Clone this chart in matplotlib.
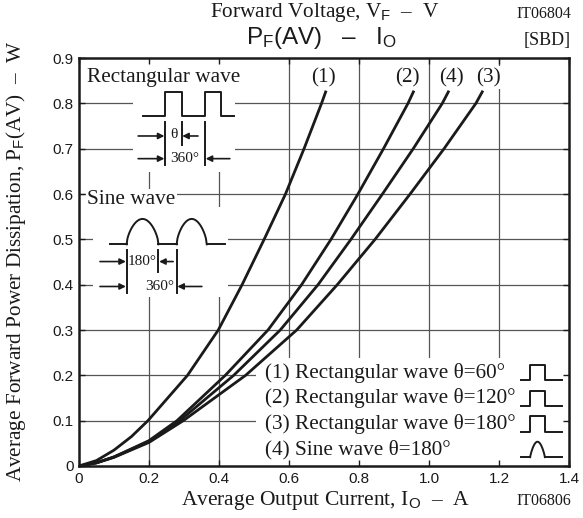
import matplotlib
matplotlib.use("Agg")
import matplotlib.pyplot as plt
import numpy as np
from matplotlib.patches import Rectangle

# values (I_O in A, P_F(AV) in W)
io_1 = [0, 0.05, 0.1, 0.15, 0.197, 0.31, 0.398, 0.466, 0.529, 0.59, 0.643, 0.693, 0.706]
pf_1 = [0, 0.012, 0.035, 0.065, 0.1, 0.2, 0.3, 0.4, 0.5, 0.6, 0.7, 0.8, 0.828]

io_2 = [0, 0.05, 0.1, 0.2, 0.28, 0.418, 0.54, 0.636, 0.72, 0.797, 0.870, 0.940, 0.957]
pf_2 = [0, 0.007, 0.02, 0.056, 0.1, 0.2, 0.3, 0.4, 0.5, 0.6, 0.7, 0.8, 0.828]

io_3 = [0, 0.05, 0.1, 0.2, 0.298, 0.476, 0.622, 0.738, 0.846, 0.946, 1.043, 1.134, 1.154]
pf_3 = [0, 0.007, 0.019, 0.052, 0.1, 0.2, 0.3, 0.4, 0.5, 0.6, 0.7, 0.8, 0.828]

io_4 = [0, 0.05, 0.1, 0.2, 0.288, 0.442, 0.575, 0.683, 0.777, 0.867, 0.955, 1.038, 1.057]
pf_4 = [0, 0.007, 0.02, 0.054, 0.1, 0.2, 0.3, 0.4, 0.5, 0.6, 0.7, 0.8, 0.828]

curve_names = ["(1)", "(2)", "(4)", "(3)"]
legend_labels = [
    "(1) Rectangular wave θ=60°",
    "(2) Rectangular wave θ=120°",
    "(3) Rectangular wave θ=180°",
    "(4) Sine wave θ=180°",
]
x_ticks = [0, 0.2, 0.4, 0.6, 0.8, 1.0, 1.2, 1.4]
x_ticklabels = ["0", "0.2", "0.4", "0.6", "0.8", "1.0", "1.2", "1.4"]
y_ticks = [0, 0.1, 0.2, 0.3, 0.4, 0.5, 0.6, 0.7, 0.8, 0.9]
y_ticklabels = ["0", "0.1", "0.2", "0.3", "0.4", "0.5", "0.6", "0.7", "0.8", "0.9"]

SERIF = ["Liberation Serif", "DejaVu Serif"]
SANS = ["Liberation Sans", "DejaVu Sans"]
INK = "#1a1a1a"
GRID = "#555555"
FS = 15.3

plt.rcParams["mathtext.fontset"] = "custom"
plt.rcParams["mathtext.rm"] = "Liberation Serif"
plt.rcParams["mathtext.sf"] = "Liberation Sans"
plt.rcParams["mathtext.it"] = "Liberation Serif:italic"

fig = plt.figure(figsize=(5.83, 5.18), dpi=100)
ax = fig.add_axes([0.1355, 0.1004, 0.8405, 0.7876])
ax.set_xlim(0, 1.4)
ax.set_ylim(0, 0.9)

# grid drawn by hand so white boxes can hide it but not the ticks
for v in x_ticks[1:-1]:
    ax.axvline(v, color=GRID, lw=0.9, zorder=0.5)
for v in y_ticks[1:-1]:
    ax.axhline(v, color=GRID, lw=0.9, zorder=0.5)

white = dict(facecolor="white", edgecolor="none", zorder=1.5)
ax.add_patch(Rectangle((0.155, 0.649), 0.291, 0.25, **white))
ax.add_patch(Rectangle((0.04, 0.373), 0.386, 0.199, **white))
ax.add_patch(Rectangle((0.506, 0.0), 0.9, 0.238, **white))

for xs, ys in [(io_1, pf_1), (io_2, pf_2), (io_3, pf_3), (io_4, pf_4)]:
    ax.plot(xs, ys, color=INK, lw=2.0, solid_capstyle="butt", solid_joinstyle="round", zorder=3)

# curve tags at the top end of each line
tag_x = [0.697, 0.937, 1.063, 1.169]
for name, tx in zip(curve_names, tag_x):
    ax.text(tx, 0.857, name, ha="center", va="center", fontsize=FS, family=SERIF,
            color=INK, zorder=4,
            bbox=dict(facecolor="white", edgecolor="none", pad=1.0))


def arrow(x0, x1, y):
    ax.annotate("", xy=(x1, y), xytext=(x0, y),
                arrowprops=dict(arrowstyle="-|>", color=INK, lw=1.2,
                                mutation_scale=9, shrinkA=0, shrinkB=0),
                zorder=4)


def vline(x, y0, y1):
    ax.plot([x, x], [y0, y1], color=INK, lw=1.4, zorder=4)


# rectangular wave sketch
ax.text(0.024, 0.857, "Rectangular wave", ha="left", va="center", fontsize=FS,
        family=SERIF, color=INK, zorder=4)
rx = [0.182, 0.246, 0.246, 0.293, 0.293, 0.36, 0.36, 0.407, 0.407, 0.443]
ry = [0.771, 0.771, 0.824, 0.824, 0.771, 0.771, 0.824, 0.824, 0.771, 0.771]
ax.plot(rx, ry, color=INK, lw=1.4, zorder=4)
vline(0.246, 0.759, 0.664)
vline(0.293, 0.759, 0.709)
vline(0.36, 0.759, 0.664)
arrow(0.169, 0.244, 0.728)
arrow(0.34, 0.295, 0.728)
ax.text(0.27, 0.731, "θ", ha="center", va="center", fontsize=11, family=SERIF, color=INK, zorder=4)
arrow(0.169, 0.244, 0.678)
arrow(0.431, 0.362, 0.678)
ax.text(0.303, 0.678, "360°", ha="center", va="center", fontsize=11, family=SERIF, color=INK, zorder=4)

# sine wave sketch
ax.text(0.024, 0.587, "Sine wave", ha="left", va="center", fontsize=FS,
        family=SERIF, color=INK, zorder=4,
        bbox=dict(facecolor="white", edgecolor="none", pad=1))
t = np.linspace(0, np.pi, 40)
hump = 0.056 * np.sin(t) ** 0.6
ax.plot([0.089, 0.136], [0.489, 0.489], color=INK, lw=1.4, zorder=4)
ax.plot(0.136 + (0.227 - 0.136) * t / np.pi, 0.489 + hump, color=INK, lw=1.4, zorder=4)
ax.plot([0.227, 0.279], [0.489, 0.489], color=INK, lw=1.4, zorder=4)
ax.plot(0.279 + (0.365 - 0.279) * t / np.pi, 0.489 + hump, color=INK, lw=1.4, zorder=4)
ax.plot([0.365, 0.417], [0.489, 0.489], color=INK, lw=1.4, zorder=4)
vline(0.136, 0.477, 0.382)
vline(0.227, 0.477, 0.428)
vline(0.279, 0.477, 0.382)
arrow(0.06, 0.134, 0.451)
arrow(0.269, 0.229, 0.451)
ax.text(0.181, 0.451, "180°", ha="center", va="center", fontsize=11, family=SERIF, color=INK, zorder=4)
arrow(0.06, 0.134, 0.396)
arrow(0.351, 0.281, 0.396)
ax.text(0.231, 0.396, "360°", ha="center", va="center", fontsize=11, family=SERIF, color=INK, zorder=4)

# legend rows with small wave glyphs
for i, label in enumerate(legend_labels):
    yc = 0.206 - i * 0.0565
    ax.text(0.531, yc, label, ha="left", va="center", fontsize=FS, family=SERIF,
            color=INK, zorder=4)
    base = yc - 0.017
    top = yc + 0.017
    if i < 3:
        gx = [1.263, 1.289, 1.289, 1.331, 1.331, 1.38]
        gy = [base, base, top, top, base, base]
        ax.plot(gx, gy, color=INK, lw=1.4, zorder=4)
    else:
        ax.plot([1.263, 1.289], [base, base], color=INK, lw=1.4, zorder=4)
        ax.plot(1.289 + 0.042 * t / np.pi, base + (top - base) * np.sin(t) ** 0.8,
                color=INK, lw=1.4, zorder=4)
        ax.plot([1.331, 1.38], [base, base], color=INK, lw=1.4, zorder=4)

ax.set_xticks(x_ticks)
ax.set_xticklabels(x_ticklabels)
ax.set_yticks(y_ticks)
ax.set_yticklabels(y_ticklabels)
ax.tick_params(direction="in", length=4, width=1, top=True, right=True,
               labelsize=11, colors=INK, pad=4)
for lab in ax.get_xticklabels() + ax.get_yticklabels():
    lab.set_family(SANS)
for sp in ax.spines.values():
    sp.set_linewidth(1.8)
    sp.set_color(INK)
    sp.set_zorder(5)

# titles and axis labels
fig.text(325 / 583, 1 - 13 / 518, "Forward Voltage, V$_\\mathsf{F}$  –  V", ha="center",
         va="center", fontsize=FS, family=SERIF, color=INK)
fig.text(571 / 583, 1 - 14 / 518, "IT06804", ha="right", va="center", fontsize=11.5,
         family=SERIF, color=INK)
fig.text(321 / 583, 1 - 38 / 518, "P$_\\mathsf{F}$(AV)   –   I$_\\mathsf{O}$", ha="center",
         va="center", fontsize=17.5, family=SANS, color=INK)
fig.text(571 / 583, 1 - 40 / 518, "[SBD]", ha="right", va="center", fontsize=13,
         family=SERIF, color=INK)
fig.text(325 / 583, 1 - 500 / 518, "Average Output Current, I$_\\mathsf{O}$  –  A",
         ha="center", va="center", fontsize=15.5, family=SERIF, color=INK)
fig.text(571 / 583, 1 - 501 / 518, "IT06806", ha="right", va="center", fontsize=11.5,
         family=SERIF, color=INK)
fig.text(16 / 583, 1 - 261 / 518,
         "Average Forward Power Dissipation, P$_\\mathsf{F}$(AV)  –  W",
         ha="center", va="center", rotation=90, fontsize=FS, family=SERIF, color=INK)

fig.savefig("out.png", dpi=100)
